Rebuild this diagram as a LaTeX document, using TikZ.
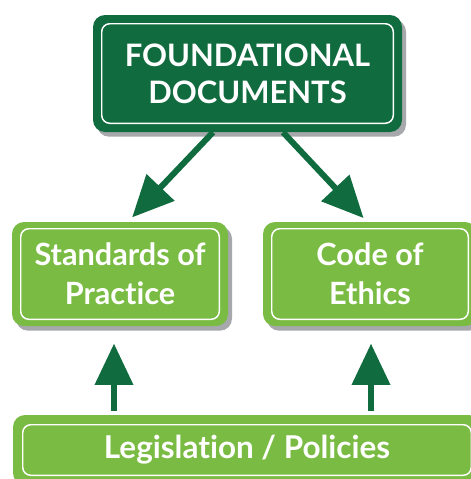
\documentclass[tikz,border=0pt]{standalone}
\usepackage{fontspec}
\setmainfont{Lato}[Ligatures=CommonOff]
\usetikzlibrary{arrows.meta, shadows}
\definecolor{darkgreen}{HTML}{106B3E}
\definecolor{leafgreen}{HTML}{7ABC43}
\definecolor{shadowgray}{HTML}{A6A8AB}

\begin{document}
\begin{tikzpicture}[x=0.75pt, y=-0.75pt]
\tikzstyle{box} = [rectangle, rounded corners=9pt, inner sep=0pt, text=white, align=center,
  drop shadow={shadow xshift=3pt, shadow yshift=-3.5pt, fill=shadowgray, opacity=1}]
\tikzstyle{top box} = [box, fill=darkgreen, font=\bfseries\fontsize{23.2}{28}\selectfont]
\tikzstyle{mid box} = [box, fill=leafgreen, font=\bfseries\fontsize{23}{29}\selectfont]
\tikzstyle{base box} = [box, fill=leafgreen, font=\bfseries\fontsize{23.6}{29}\selectfont]
\tikzstyle{inner line} = [draw=white, line width=1.1pt, rounded corners=6pt]
\tikzstyle{flow} = [-{Triangle[length=31pt, width=28pt]}, draw=darkgreen, line width=4.5pt]

\useasboundingbox (0,0) rectangle (471,479);
\clip (0,0) rectangle (471,479);

\node[top box, minimum width=309*0.75pt, minimum height=117*0.75pt] (found) at (247.5,73.5) {FOUNDATIONAL\\DOCUMENTS};
\node[mid box, minimum width=216*0.75pt, minimum height=104*0.75pt] (standards) at (120,274) {Standards of\\Practice};
\node[mid box, minimum width=214*0.75pt, minimum height=104*0.75pt] (ethics) at (370,274) {Code of\\Ethics};
\node[base box, minimum width=468*0.75pt, minimum height=70*0.75pt] (legis) at (247,450) {Legislation / Policies};

\draw[inner line] ([shift={(9,9)}]found.north west) rectangle ([shift={(-9,-9)}]found.south east);
\draw[inner line] ([shift={(9,7)}]standards.north west) rectangle ([shift={(-9,-7)}]standards.south east);
\draw[inner line] ([shift={(9,7)}]ethics.north west) rectangle ([shift={(-9,-7)}]ethics.south east);
\draw[inner line] ([shift={(10,10)}]legis.north west) rectangle ([shift={(-10,-10)}]legis.south east);

\draw[flow, shorten >=4.5pt] ([shift={(-34.5,0)}]found.south) -- ([shift={(8,0)}]standards.north);
\draw[flow, shorten >=3.75pt] ([shift={(35.5,0)}]found.south) -- ([shift={(-3,0)}]ethics.north);
\draw[flow, shorten <=3pt, shorten >=13pt] ([shift={(-133,0)}]legis.north) -- ([shift={(-6,0)}]standards.south);
\draw[flow, shorten <=3pt, shorten >=13pt] ([shift={(124,0)}]legis.north) -- ([shift={(1,0)}]ethics.south);
\end{tikzpicture}
\end{document}
